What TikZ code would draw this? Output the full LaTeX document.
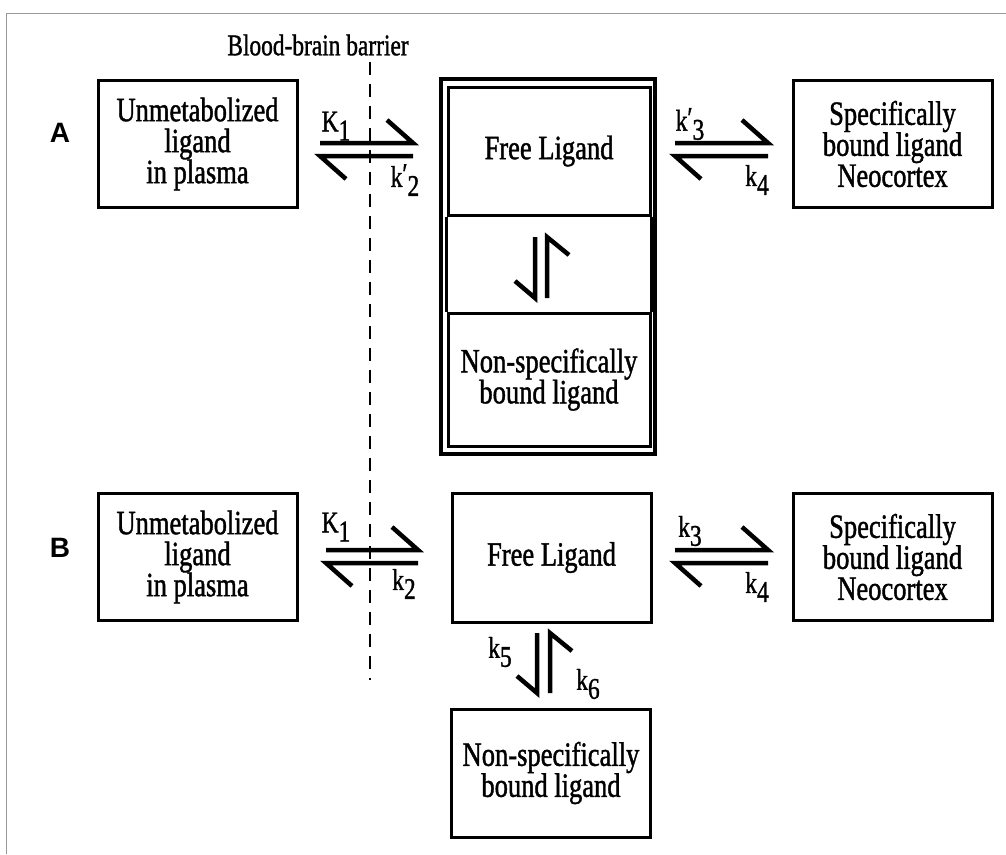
\documentclass[tikz,border=0pt]{standalone}
\usepackage{fontspec}
\setmainfont{Liberation Serif}[FakeStretch=0.78,FakeBold=1.2]
\newfontfamily\panelfont{Liberation Sans}
\usetikzlibrary{calc}
\newcommand{\lo}[1]{\raisebox{-0.3em}{#1}}
\newcommand{\pr}{\raisebox{0.1em}{′}}
\tikzset{
  box/.style={draw,line width=3pt,align=center,inner sep=0pt,
    minimum width=199pt,minimum height=127pt,
    font=\fontsize{34}{31}\selectfont},
  rate/.style={font=\fontsize{30}{30}\selectfont},
  panel/.style={font=\panelfont\bfseries\fontsize{28}{28}\selectfont},
  eq/.style={line width=4.5pt},
  barrier/.style={line width=2.5pt,dash pattern=on 13pt off 9pt},
}

\begin{document}
\begin{tikzpicture}[x=1pt,y=-1pt]
  \useasboundingbox (0,0) rectangle (1006,854);
  \draw[black!40,line width=1pt] (6,854) -- (6,13) -- (1006,13);

  % blood-brain barrier
  \node (bbb) at (318,45) [font=\fontsize{30}{30}\selectfont]{Blood-brain barrier};
  \coordinate (bbbtop) at (370,62);
  \coordinate (bbbend) at (370,680);
  \draw[barrier] (bbbtop) -- (bbbend);

  % panel A
  \node (A) at (60,133)[panel]{A};
  \node (plasmaA) at (197.5,144)[box]{Unmetabolized\\ligand\\in plasma};
  \node (freeA) at (549,151)[box,minimum width=202pt,minimum height=128pt]{Free Ligand};
  \node (nsA) at (549,379.5)[box,minimum width=202pt,minimum height=133pt]
    {Non-specifically\\bound ligand};
  \node (specA) at (892.5,144)[box]{Specifically\\bound ligand\\Neocortex};
  \draw[line width=3.5pt] (441,79) rectangle (655,454);
  \draw[line width=3pt] (freeA.south west) -- (nsA.north west);
  \draw[line width=3pt] (freeA.south east) -- (nsA.north east);

  \coordinate (a1) at (320,143);
  \coordinate (a2) at (413,143);
  \coordinate (a3) at (320,156);
  \coordinate (a4) at (413,156);
  \draw[eq] (a1) -- (a2) -- +(-26,-23);
  \draw[eq] (a4) -- (a3) -- +(26,23);
  \node at (336,126)[rate]{K\lo{1}};
  \node at (405,180)[rate]{k\pr\lo{2}};

  \coordinate (a5) at (675,143);
  \coordinate (a6) at (768,143);
  \coordinate (a7) at (675,156);
  \coordinate (a8) at (768,156);
  \draw[eq] (a5) -- (a6) -- +(-26,-23);
  \draw[eq] (a8) -- (a7) -- +(26,23);
  \node at (690,124)[rate]{k\pr\lo{3}};
  \node at (757,180)[rate]{k\lo{4}};

  \coordinate (a9) at (535,237);
  \coordinate (a10) at (535,298);
  \coordinate (a11) at (547,237);
  \coordinate (a12) at (547,298);
  \draw[eq] (a9) -- (a10) -- +(-20,-17);
  \draw[eq] (a12) -- (a11) -- +(22,18);

  % panel B
  \node (B) at (60,548)[panel]{B};
  \node (plasmaB) at (197.5,557)[box]{Unmetabolized\\ligand\\in plasma};
  \node (freeB) at (551.5,557.5)[box,minimum height=129pt]{Free Ligand};
  \node (specB) at (892.5,557)[box]{Specifically\\bound ligand\\Neocortex};
  \node (nsB) at (551,773)[box,minimum height=128pt]{Non-specifically\\bound ligand};

  \coordinate (b1) at (326,550);
  \coordinate (b2) at (418,550);
  \coordinate (b3) at (326,563);
  \coordinate (b4) at (418,563);
  \draw[eq] (b1) -- (b2) -- +(-26,-23);
  \draw[eq] (b4) -- (b3) -- +(26,23);
  \node at (336,527)[rate]{K\lo{1}};
  \node at (404,584)[rate]{k\lo{2}};

  \coordinate (b5) at (675,550);
  \coordinate (b6) at (768,550);
  \coordinate (b7) at (675,563);
  \coordinate (b8) at (768,563);
  \draw[eq] (b5) -- (b6) -- +(-26,-23);
  \draw[eq] (b8) -- (b7) -- +(26,23);
  \node at (690,531)[rate]{k\lo{3}};
  \node at (757,587)[rate]{k\lo{4}};

  \coordinate (b9) at (537,633);
  \coordinate (b10) at (537,693);
  \coordinate (b11) at (550,633);
  \coordinate (b12) at (550,693);
  \draw[eq] (b9) -- (b10) -- +(-20,-17);
  \draw[eq] (b12) -- (b11) -- +(22,18);
  \node at (500,652)[rate]{k\lo{5}};
  \node at (588,684)[rate]{k\lo{6}};
\end{tikzpicture}
\end{document}
